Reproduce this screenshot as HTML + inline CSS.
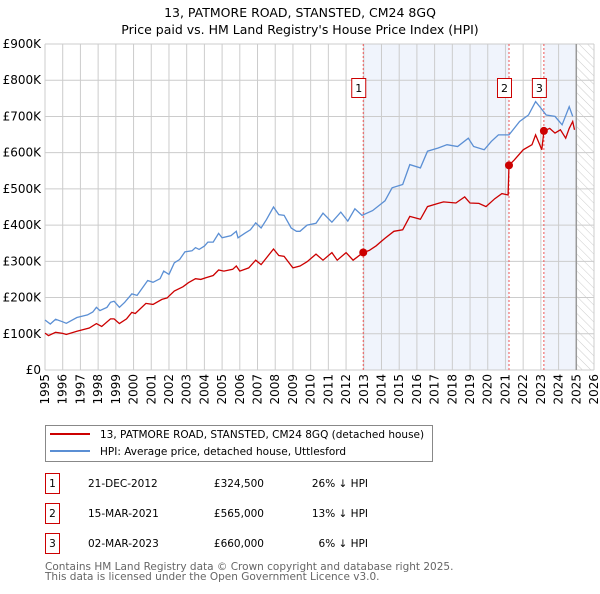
<!DOCTYPE html>
<html><head><meta charset="utf-8"><style>
body{margin:0;background:#fff;font-family:"DejaVu Sans","Liberation Sans",sans-serif;}
svg text{font-family:"DejaVu Sans","Liberation Sans",sans-serif;}
</style></head><body>
<svg id="c" width="600" height="590" xmlns="http://www.w3.org/2000/svg">
<defs><pattern id="hatch" width="6" height="6" patternUnits="userSpaceOnUse" patternTransform="rotate(-45)"><line x1="0" y1="0" x2="0" y2="6" stroke="#ccc" stroke-width="1"/></pattern></defs>
<text x="300" y="17" text-anchor="middle" font-size="12.5">13, PATMORE ROAD, STANSTED, CM24 8GQ</text>
<text x="300" y="34" text-anchor="middle" font-size="12.5">Price paid vs. HM Land Registry's House Price Index (HPI)</text>
<g id="plot"></g>
<g>
<rect x="45.5" y="425.5" width="387" height="36" fill="#fff" stroke="#888"/>
<line x1="50" y1="434" x2="90" y2="434" stroke="#cc0000" stroke-width="2"/>
<text x="100" y="438" font-size="10.5">13, PATMORE ROAD, STANSTED, CM24 8GQ (detached house)</text>
<line x1="50" y1="451" x2="90" y2="451" stroke="#5b8fd4" stroke-width="2"/>
<text x="100" y="455" font-size="10.5">HPI: Average price, detached house, Uttlesford</text>
</g>
<g id="table" font-size="10.5"></g>
<text x="45" y="570" font-size="10.5" fill="#666">Contains HM Land Registry data © Crown copyright and database right 2025.</text>
<text x="45" y="580" font-size="10.5" fill="#666">This data is licensed under the Open Government Licence v3.0.</text>
</svg>
<script>
const yTicks=[0,100,200,300,400,500,600,700,800,900];
const yTickLabels=["£0","£100K","£200K","£300K","£400K","£500K","£600K","£700K","£800K","£900K"];
const xYears=[1995,1996,1997,1998,1999,2000,2001,2002,2003,2004,2005,2006,2007,2008,2009,2010,2011,2012,2013,2014,2015,2016,2017,2018,2019,2020,2021,2022,2023,2024,2025,2026];
const hpiT=[1995.0,1995.3,1995.6,1996.0,1996.2,1996.8,1997.4,1997.7,1997.9,1998.1,1998.5,1998.7,1998.9,1999.2,1999.5,1999.9,2000.2,2000.8,2001.1,2001.5,2001.7,2002.0,2002.3,2002.6,2002.9,2003.3,2003.5,2003.7,2004.0,2004.2,2004.5,2004.8,2005.0,2005.5,2005.8,2005.9,2006.3,2006.6,2006.9,2007.2,2007.5,2007.9,2008.2,2008.5,2008.9,2009.2,2009.4,2009.8,2010.3,2010.7,2011.2,2011.7,2012.1,2012.5,2012.9,2013.5,2014.2,2014.6,2015.2,2015.6,2016.2,2016.6,2017.2,2017.7,2018.3,2018.9,2019.2,2019.8,2020.2,2020.6,2021.2,2021.8,2022.3,2022.7,2023.0,2023.3,2023.8,2024.2,2024.6,2024.8];
const hpiV=[138,127,140,133,129,145,152,160,173,164,173,187,190,173,187,210,206,247,242,252,273,264,296,305,326,329,338,333,342,353,353,377,365,371,383,365,378,387,406,392,415,450,429,427,392,383,383,400,405,433,408,436,411,445,427,440,467,503,512,567,558,604,613,622,617,640,617,608,631,649,649,686,704,741,723,704,700,677,727,700];
const ppT=[1995.0,1995.2,1995.6,1996.0,1996.2,1996.8,1997.5,1997.9,1998.2,1998.7,1998.9,1999.2,1999.6,1999.9,2000.1,2000.7,2001.1,2001.6,2001.9,2002.0,2002.3,2002.8,2003.1,2003.5,2003.8,2004.1,2004.5,2004.8,2005.1,2005.6,2005.8,2006.0,2006.5,2006.9,2007.2,2007.9,2008.2,2008.5,2009.0,2009.4,2009.8,2010.3,2010.7,2011.2,2011.5,2012.0,2012.4,2012.97,2013.3,2013.7,2014.2,2014.7,2015.2,2015.6,2016.2,2016.6,2017.2,2017.5,2018.2,2018.7,2019.0,2019.5,2019.9,2020.4,2020.8,2021.15,2021.2,2021.5,2022.0,2022.5,2022.7,2022.9,2023.05,2023.17,2023.5,2023.8,2024.1,2024.4,2024.6,2024.8,2024.9];
const ppV=[102,95,104,101,98,107,116,128,120,141,141,128,141,159,156,184,181,195,199,204,218,230,241,252,250,255,261,276,273,278,287,273,282,303,291,334,316,314,282,287,299,320,303,324,303,324,303,324.5,330,343,364,383,387,424,416,451,460,464,461,478,461,460,451,473,487,483,565,580,608,622,649,626,608,660,667,654,663,640,667,686,663];
const saleT=[2012.97,2021.2,2023.17];
const saleV=[324.5,565,660];
const saleLabels=["1","2","3"];
const saleDates=["21-DEC-2012","15-MAR-2021","02-MAR-2023"];
const salePrices=["£324,500","£565,000","£660,000"];
const saleDiff=["26% ↓ HPI","13% ↓ HPI","6% ↓ HPI"];
const NS="http://www.w3.org/2000/svg";
const L=45,R=594,T=44,B=370;
const x=t=>L+(t-1995)/(2026-1995)*(R-L);
const y=v=>B-v/900*(B-T);
const g=document.getElementById('plot');
function mk(tag,attrs,parent){const e=document.createElementNS(NS,tag);for(const k in attrs)e.setAttribute(k,attrs[k]);(parent||g).appendChild(e);return e;}
let e;
e=mk('rect',{x:x(saleT[0]),y:T,width:x(saleT[1])-x(saleT[0]),height:B-T,fill:'#f0f4fc'});

e=mk('rect',{x:x(saleT[2]),y:T,width:x(2025)-x(saleT[2]),height:B-T,fill:'#f0f4fc'});

e=mk('rect',{x:x(2025),y:T,width:R-x(2025),height:B-T,fill:'url(#hatch)'});

yTicks.forEach((v,i)=>{
 e=mk('line',{x1:L,x2:R,y1:y(v),y2:y(v),stroke:'#ccc'});
 
 e=mk('text',{x:L-4,y:y(v)+4,'text-anchor':'end','font-size':'12'});e.textContent=yTickLabels[i];
 
});
xYears.forEach(t=>{
 e=mk('line',{x1:x(t),x2:x(t),y1:T,y2:B,stroke:'#ccc'});
 
 e=mk('text',{x:0,y:0,'text-anchor':'end','font-size':'12',transform:`translate(${x(t)+4},${B+4}) rotate(-90)`});e.textContent=t;
 
});
e=mk('line',{x1:x(2025),x2:x(2025),y1:T,y2:B,stroke:'#999','stroke-width':1.5});

saleT.forEach(t=>{
 e=mk('line',{x1:x(t),x2:x(t),y1:T,y2:B,stroke:'#e55','stroke-dasharray':'2,2'});
 
});
e=mk('path',{d:hpiT.map((t,i)=>(i?'L':'M')+x(t).toFixed(1)+','+y(hpiV[i]).toFixed(1)).join(''),fill:'none',stroke:'#5b8fd4','stroke-width':1.3});

e=mk('path',{d:ppT.map((t,i)=>(i?'L':'M')+x(t).toFixed(1)+','+y(ppV[i]).toFixed(1)).join(''),fill:'none',stroke:'#cc0000','stroke-width':1.3});

saleT.forEach((t,i)=>{
 e=mk('circle',{cx:x(t),cy:y(saleV[i]),r:4,fill:'#cc0000'});
 
 const bx=x(t)-19;
 e=mk('rect',{x:bx+7.5,y:78.5,width:14,height:19,fill:'#fff',stroke:'#cc0000'});
 
 e=mk('text',{x:bx+14.5,y:92,'text-anchor':'middle','font-size':'11'});e.textContent=saleLabels[i];
 
});
const tb=document.getElementById('table');
saleT.forEach((t,i)=>{
 const yy=483+i*30;
 e=mk('rect',{x:45.5,y:yy-9.5,width:14,height:20,fill:'none',stroke:'#cc0000'},tb);
 
 e=mk('text',{x:52.5,y:yy+4,'text-anchor':'middle'},tb);e.textContent=saleLabels[i];
 
 e=mk('text',{x:88,y:yy+4},tb);e.textContent=saleDates[i];
 
 e=mk('text',{x:264,y:yy+4,'text-anchor':'end'},tb);e.textContent=salePrices[i];
 
 e=mk('text',{x:368,y:yy+4,'text-anchor':'end'},tb);e.textContent=saleDiff[i];
 
});
</script>
</body></html>
